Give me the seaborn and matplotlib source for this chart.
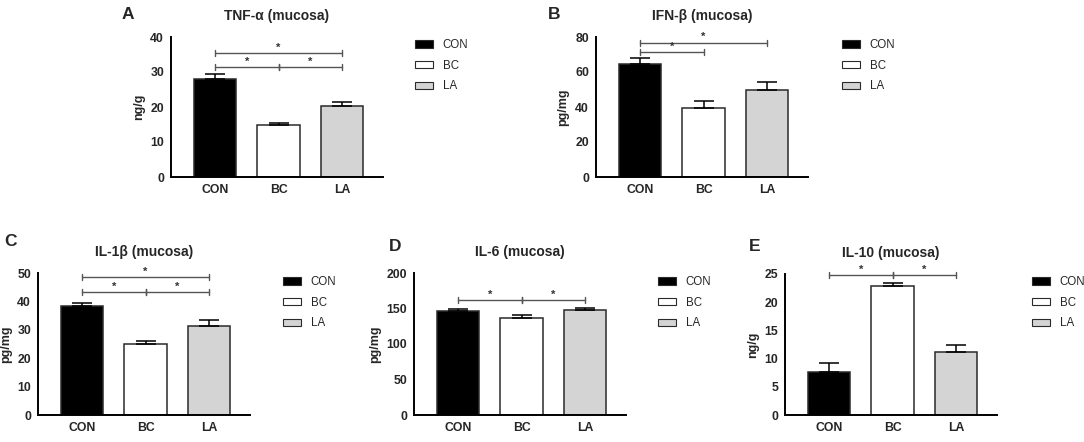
import matplotlib
matplotlib.use('Agg')
import matplotlib.pyplot as plt
import pandas as pd
import seaborn as sns
from matplotlib.patches import Patch

sns.set_style('white')
plt.rcParams['font.family'] = ['Liberation Sans', 'DejaVu Sans']

# data
groups = ['CON', 'BC', 'LA']
titles = ['TNF-α (mucosa)', 'IFN-β (mucosa)', 'IL-1β (mucosa)', 'IL-6 (mucosa)', 'IL-10 (mucosa)']
letters = ['A', 'B', 'C', 'D', 'E']
ylabels = ['ng/g', 'pg/mg', 'pg/mg', 'pg/mg', 'ng/g']
tnf_mean = [28.1, 15.0, 20.2]
tnf_sem = [1.4, 0.5, 1.1]
ifn_mean = [64.5, 39.5, 49.8]
ifn_sem = [3.6, 4.0, 4.6]
il1b_mean = [38.5, 25.0, 31.5]
il1b_sem = [1.1, 1.0, 2.0]
il6_mean = [146.0, 137.0, 148.0]
il6_sem = [4.0, 3.5, 2.5]
il10_mean = [7.7, 22.8, 11.1]
il10_sem = [1.5, 0.6, 1.4]
means = [tnf_mean, ifn_mean, il1b_mean, il6_mean, il10_mean]
sems = [tnf_sem, ifn_sem, il1b_sem, il6_sem, il10_sem]
yticks = [[0, 10, 20, 30, 40], [0, 20, 40, 60, 80], [0, 10, 20, 30, 40, 50],
          [0, 50, 100, 150, 200], [0, 5, 10, 15, 20, 25]]
# significance brackets: (group i, group j, height)
sig = [
    [(0, 2, 35.4), (0, 1, 31.5), (1, 2, 31.5)],
    [(0, 2, 76.8), (0, 1, 71.5)],
    [(0, 2, 48.5), (0, 1, 43.4), (1, 2, 43.4)],
    [(0, 1, 162), (1, 2, 162)],
    [(0, 1, 24.8), (1, 2, 24.8)],
]

colors = {'CON': 'black', 'BC': 'white', 'LA': '#d4d4d4'}
edge = '#2a2a2a'

W, H = 1084, 442
# axes boxes in pixels: left, top, right, bottom
boxes = [(171, 37, 383, 177), (596, 37, 808, 177), (38, 273, 250, 415),
         (414, 273, 626, 415), (785, 274, 997, 415)]
legend_pos = [(415, 39), (842, 39), (283, 276), (658, 276), (1032, 276)]
letter_pos = [(122, 7), (548, 7), (4, 234), (389, 239), (749, 239)]

fig = plt.figure(figsize=(W / 100, H / 100), dpi=100)


def bracket(ax, i, j, y, h):
    c = '#555555'
    ax.plot([i, j], [y, y], color=c, lw=1, clip_on=False)
    for x in (i, j):
        ax.plot([x, x], [y - h, y + h], color=c, lw=1, clip_on=False)
    ax.text((i + j) / 2, y + h * 0.1, '*', ha='center', va='bottom', fontsize=8,
            fontweight='bold', color='#333333', clip_on=False)


for k in range(5):
    l, t, r, b = boxes[k]
    ax = fig.add_axes([l / W, 1 - b / H, (r - l) / W, (b - t) / H])
    df = pd.DataFrame({'group': groups, 'value': means[k]})
    sns.barplot(data=df, x='group', y='value', hue='group', palette=colors,
                width=0.67, edgecolor=edge, linewidth=1.1, errorbar=None,
                legend=False, ax=ax)
    ax.errorbar(range(3), means[k], yerr=[[0, 0, 0], sems[k]], fmt='none',
                ecolor='black', elinewidth=1.1, capsize=7.5, capthick=1.1, zorder=1)
    top = yticks[k][-1]
    ax.set_ylim(0, top)
    ax.set_xlim(-0.7, 2.65)
    ax.set_yticks(yticks[k])
    sns.despine(ax=ax)
    for s in ('left', 'bottom'):
        ax.spines[s].set_linewidth(1.4)
        ax.spines[s].set_color('black')
    ax.tick_params(axis='both', direction='out', length=3, width=1.2, color='black',
                   labelsize=8.8, pad=2)
    for lab in ax.get_xticklabels() + ax.get_yticklabels():
        lab.set_fontweight('bold')
    ax.set_xlabel('')
    ax.set_ylabel(ylabels[k], fontsize=9, fontweight='bold', labelpad=4)
    ax.set_title(titles[k], fontsize=10, fontweight='bold', pad=12)
    for i, j, y in sig[k]:
        bracket(ax, i, j, y, top * 0.022)

    handles = [Patch(facecolor=colors[g], edgecolor=edge, linewidth=0.8, label=g) for g in groups]
    lx, ly = legend_pos[k]
    ax.legend(handles=handles, loc='upper left', bbox_to_anchor=(lx / W, 1 - ly / H),
              bbox_transform=fig.transFigure, frameon=False, fontsize=8.3,
              handlelength=1.6, handleheight=0.6, handletextpad=0.8,
              labelspacing=0.75, borderpad=0, borderaxespad=0)

    px, py = letter_pos[k]
    fig.text(px / W, 1 - py / H, letters[k], ha='left', va='top', fontsize=12.5,
             fontweight='bold')

fig.savefig('out.png', dpi=100)
